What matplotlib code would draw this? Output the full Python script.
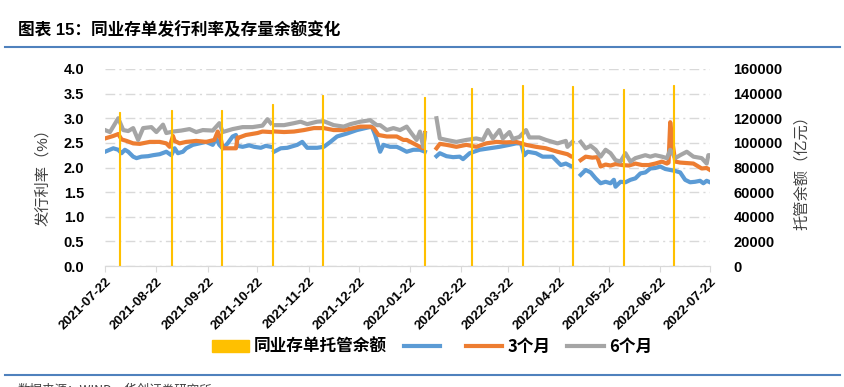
import numpy as np
import pandas as pd
import matplotlib
matplotlib.use('Agg')
import matplotlib.pyplot as plt
from matplotlib.lines import Line2D
from matplotlib.patches import Patch

plt.rcParams['font.family'] = ['Liberation Sans', 'Noto Sans CJK SC', 'DejaVu Sans']

inicio = pd.Timestamp('2021-07-22')
nan = np.nan

# 1个月 (dias desde 2021-07-22, taxa %)
dias_1m = [0, 5, 8, 10, 12, 14, 17, 19, 22, 26, 29, 33, 37, 40, 42, 44, 47, 49, 53, 57,
           61, 65, 67, 69, 71, 74, 77, 79, 80, 83, 87, 90, 94, 97, 100, 101, 102, 106, 110,
           116, 119, 122, 128, 132, 136, 140, 146, 152, 157, 161, 163, 166, 168, 172, 176,
           178, 182, 186, 190, 193, 196, 200, 202, 206, 210, 214, 216, 220, 226, 232, 238,
           244, 248, 251, 253, 255, 260, 264, 270, 275, 278, 281, 284, 287, 290, 293, 296,
           299, 302, 305, 307, 308, 311, 314, 317, 320, 323, 326, 329, 332, 335, 338, 341,
           344, 347, 350, 353, 356, 359, 361, 363, 365]
taxa_1m = [2.32, 2.39, 2.36, 2.29, 2.36, 2.32, 2.22, 2.19, 2.22, 2.23, 2.25, 2.27, 2.32, 2.25,
           2.39, 2.29, 2.32, 2.39, 2.46, 2.49, 2.52, 2.46, 2.59, 2.46, 2.39, 2.49, 2.63, 2.66,
           2.44, 2.42, 2.45, 2.42, 2.40, 2.44, 2.42, nan, 2.32, 2.39, 2.40, 2.46, 2.52, 2.40,
           2.40, 2.42, 2.52, 2.63, 2.69, 2.76, 2.80, 2.83, 2.66, 2.32, 2.46, 2.42, 2.42, 2.39,
           2.32, 2.36, 2.36, 2.32, nan, 2.23, 2.29, 2.23, 2.21, 2.22, 2.17, 2.29, 2.36, 2.39,
           2.42, 2.46, 2.49, 2.49, 2.25, 2.32, 2.29, 2.22, 2.22, 2.05, 2.08, 2.03, nan, 1.85,
           1.95, 1.90, 1.78, 1.68, 1.71, 1.68, 1.75, 1.61, 1.71, 1.70, 1.75, 1.78, 1.88, 1.90,
           1.98, 1.99, 2.02, 1.97, 1.95, 1.93, 1.90, 1.75, 1.70, 1.71, 1.73, 1.68, 1.73, 1.70]

# 3个月
dias_3m = [0, 5, 8, 10, 13, 17, 21, 27, 33, 37, 39, 41, 42, 45, 49, 55, 61, 66, 68, 70, 71,
           79, 80, 81, 85, 92, 95, 100, 101, 103, 108, 114, 120, 126, 132, 138, 144, 150, 154,
           160, 162, 165, 170, 176, 180, 182, 186, 190, 192, 193, 196, 200, 202, 206, 212,
           218, 224, 230, 236, 242, 248, 254, 260, 266, 273, 279, 281, 284, 287, 290, 294,
           297, 299, 302, 305, 308, 312, 316, 320, 324, 328, 332, 336, 339, 340, 341, 342,
           344, 347, 351, 355, 360, 363, 365]
taxa_3m = [2.59, 2.64, 2.68, 2.57, 2.54, 2.49, 2.48, 2.52, 2.52, 2.49, 2.42, 2.64, 2.54, 2.49,
           2.52, 2.54, 2.52, 2.56, 2.73, 2.56, 2.39, 2.39, 2.61, 2.61, 2.66, 2.70, 2.73, 2.72,
           nan, 2.73, 2.72, 2.73, 2.76, 2.80, 2.80, 2.76, 2.76, 2.80, 2.83, 2.83, 2.80, 2.66,
           2.63, 2.63, 2.56, 2.56, 2.49, 2.42, 2.39, 2.70, nan, 2.39, 2.48, 2.46, 2.42, 2.46,
           2.42, 2.49, 2.52, 2.51, 2.52, 2.46, 2.42, 2.39, 2.32, 2.27, 2.23, nan, 2.15, 2.22,
           2.20, 2.21, 2.02, 2.06, 2.04, 2.07, 2.05, 2.04, 2.08, 2.05, 2.05, 2.08, 2.12, 2.08,
           2.10, 2.92, 2.60, 2.12, 2.10, 2.09, 2.08, 1.98, 1.99, 1.95]

# 6个月
dias_6m = [0, 3, 8, 11, 14, 17, 20, 23, 28, 31, 35, 37, 41, 46, 51, 55, 59, 65, 69, 71, 77,
           83, 89, 95, 98, 100, 101, 103, 108, 114, 118, 122, 128, 132, 138, 144, 148, 154,
           160, 164, 166, 170, 174, 178, 182, 185, 188, 190, 192, 193, 196, 200, 202, 206,
           212, 218, 224, 228, 231, 234, 238, 240, 244, 246, 250, 254, 256, 262, 266, 273,
           278, 279, 282, 284, 287, 290, 293, 296, 299, 302, 305, 308, 311, 314, 317, 320,
           323, 326, 329, 332, 336, 339, 341, 344, 347, 351, 355, 360, 363, 364, 365]
taxa_6m = [2.76, 2.72, 3.00, 2.76, 2.74, 2.80, 2.56, 2.80, 2.82, 2.72, 2.87, 2.70, 2.73, 2.75,
           2.78, 2.72, 2.76, 2.75, 2.90, 2.72, 2.78, 2.82, 2.82, 2.85, 2.98, 2.90, nan, 2.86,
           2.86, 2.90, 2.93, 2.88, 2.93, 2.94, 2.86, 2.83, 2.88, 2.93, 2.96, 2.86, 2.86, 2.76,
           2.80, 2.76, 2.83, 2.69, 2.56, 2.73, 2.42, 2.68, nan, 3.00, 2.59, 2.56, 2.52, 2.56,
           2.59, 2.56, 2.76, 2.59, 2.76, 2.59, 2.72, 2.58, 2.62, 2.76, 2.61, 2.61, 2.56, 2.49,
           2.54, 2.42, 2.52, nan, 2.52, 2.39, 2.44, 2.36, 2.22, 2.36, 2.29, 2.15, 2.12, 2.29,
           2.12, 2.19, 2.22, 2.25, 2.22, 2.25, 2.22, 2.19, 2.36, 2.19, 2.25, 2.32, 2.22, 2.19,
           2.08, 2.25, 2.25]

# 同业存单托管余额 (亿元), fim de mês
datas_saldo = ['2021-07-31', '2021-08-31', '2021-09-30', '2021-10-31', '2021-11-30',
               '2022-01-31', '2022-02-28', '2022-03-31', '2022-04-30', '2022-05-31',
               '2022-06-30']
saldo = [124800, 126700, 126700, 131600, 138900, 137500, 144800, 147000, 146200,
         143500, 147000]

cor_azul = '#5B9BD5'
cor_laranja = '#ED7D31'
cor_cinza = '#A5A5A5'
cor_amarelo = '#FFC000'

fig = plt.figure(figsize=(8.44, 3.87), dpi=100)
ax = fig.add_axes([105/844, 1 - 266/387, 605/844, 197/387])
ax2 = ax.twinx()

def para_data(dias):
    return inicio + pd.to_timedelta(dias, unit='D')

ax.plot(para_data(dias_1m), taxa_1m, color=cor_azul, lw=3)
ax.plot(para_data(dias_3m), taxa_3m, color=cor_laranja, lw=3)
ax.plot(para_data(dias_6m), taxa_6m, color=cor_cinza, lw=3)

# barras finas (largura de 1 dia), com borda para não sumirem no antialias
ax2.bar(pd.to_datetime(datas_saldo), saldo, width=0.6, color=cor_amarelo,
        edgecolor=cor_amarelo, linewidth=0.8)

ax.set_ylim(0, 4.0)
ax.set_yticks(np.arange(0, 4.01, 0.5))
ax.set_yticklabels([f'{v:.1f}' for v in np.arange(0, 4.01, 0.5)])
ax2.set_ylim(0, 160000)
ax2.set_yticks(np.arange(0, 160001, 20000))
ax.set_xlim(pd.Timestamp('2021-07-22'), pd.Timestamp('2022-07-22'))

ticks_x = [inicio + pd.DateOffset(months=i) for i in range(13)]
ax.set_xticks(ticks_x)
ax.set_xticklabels([d.strftime('%Y-%m-%d') for d in ticks_x], rotation=45, ha='right',
                   rotation_mode='anchor', fontsize=9.5, fontweight='bold')

ax.yaxis.grid(True, color='#D9D9D9', linestyle=(0, (7, 3, 1.5, 3)), linewidth=1)
ax.set_axisbelow(True)
for a in (ax, ax2):
    for lado in ('top', 'left', 'right'):
        a.spines[lado].set_visible(False)
    a.spines['bottom'].set_color('#D9D9D9')
ax.tick_params(axis='x', length=4, color='#D9D9D9', pad=3)
ax.tick_params(axis='y', length=0, pad=15, labelsize=10.5)
ax2.tick_params(axis='y', length=0, pad=17, labelsize=10.5)
for lab in ax.get_yticklabels() + ax2.get_yticklabels():
    lab.set_fontweight('bold')

ax.set_ylabel('发行利率（%）', fontsize=11, color='#404040')
ax.yaxis.set_label_coords(-0.09, 0.47)
ax2.set_ylabel('托管余额（亿元）', fontsize=11, color='#404040', rotation=90)
ax2.yaxis.set_label_coords(1.14, 0.49)

handles = [Patch(color=cor_amarelo),
           Line2D([], [], color=cor_azul, lw=3),
           Line2D([], [], color=cor_laranja, lw=3),
           Line2D([], [], color=cor_cinza, lw=3)]
labels = ['同业存单托管余额', ' ', '3个月', '6个月']
leg = fig.legend(handles, labels, loc='center', bbox_to_anchor=(0.512, 0.103), ncol=4,
                 frameon=False, handlelength=2.2, handletextpad=0.3, columnspacing=1.0,
                 prop={'family': ['Noto Sans CJK SC'], 'size': 12, 'weight': 'bold'})

fig.text(18/844, 1 - 30/387, '图表 15：同业存单发行利率及存量余额变化', fontsize=12,
         fontweight='bold', va='center', ha='left',
         family=['Liberation Sans', 'Noto Sans CJK SC'])
fig.add_artist(Line2D([5/844, 840/844], [1 - 47/387] * 2, color='#4F81BD', lw=1.5))
fig.add_artist(Line2D([5/844, 840/844], [1 - 375/387] * 2, color='#4F81BD', lw=1.5))
fig.text(18/844, 1 - 383.5/387, '数据来源：WIND，华创证券研究所', fontsize=9, color='#404040',
         va='top', ha='left', family=['Noto Sans CJK SC'])

fig.savefig('out.png', dpi=100)
